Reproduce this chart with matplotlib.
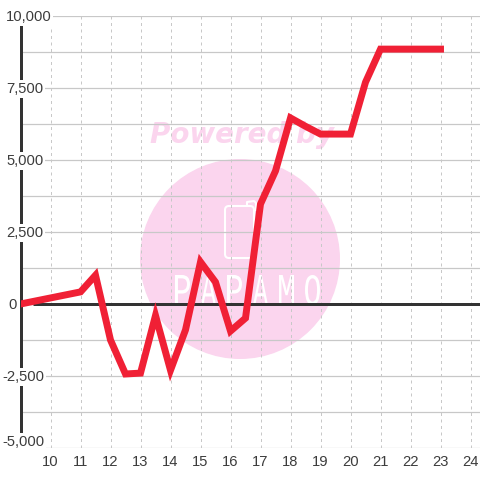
from matplotlib import pyplot as plt
from matplotlib.font_manager import FontProperties
from matplotlib.lines import Line2D
from matplotlib.patches import Circle, FancyBboxPatch, PathPatch
from matplotlib.textpath import TextPath
from matplotlib.transforms import Affine2D

plt.rcParams['font.family'] = ['Liberation Sans', 'DejaVu Sans']

x = [9, 11, 11.5, 12, 12.5, 13, 13.5, 14, 14.5, 15, 15.5, 16, 16.5, 17, 17.5, 18, 18.5, 19, 20, 20.5, 21, 23]
y = [0, 420, 1000, -1250, -2430, -2400, -400, -2300, -900, 1460, 760, -940, -490, 3470, 4620, 6460, 6170, 5900, 5900, 7700, 8850, 8850]
x_ticks = list(range(10, 25))
y_ticks = [-5000, -2500, 0, 2500, 5000, 7500, 10000]
y_minor = [-3750, -1250, 1250, 3750, 6250, 8750]
y_labels = ["-5,000", "-2,500", "0", "2,500", "5,000", "7,500", "10,000"]

W = 480
fig = plt.figure(figsize=(4.8, 4.8), dpi=100)
# axes box in pixels: x 20.5..480, y 16..448 from the top
ax = fig.add_axes([20.5 / W, (W - 448) / W, (W - 20.5) / W, 432 / W])
ax.set_xlim(9, 9 + (W - 20.5) / 30)
ax.set_ylim(-5000, 10000)
for s in ax.spines.values():
    s.set_visible(False)
ax.set_axisbelow(True)

# watermark, pixel coords with origin top left
px = Affine2D().scale(1, -1).translate(0, W)
pink = "#fbd5ee"
fig.add_artist(Circle((240, 259), 100, transform=px, color=pink, lw=0, zorder=0.5))
fig.add_artist(FancyBboxPatch((225, 206), 29, 52, boxstyle="round,pad=0,rounding_size=4",
                              transform=px, fc="none", ec="white", lw=1.5, zorder=0.6))
fig.add_artist(Line2D([247, 247, 254, 256, 256], [206, 202, 201, 203, 210], transform=px,
                      color="white", lw=1.5, zorder=0.6))
fig.text(242 / W, 1 - 135 / W, "Powered by", color=pink, fontsize=20, fontweight="bold",
         fontstyle="italic", family="DejaVu Sans", ha="center", va="center", zorder=0.6)
# narrow logo letters, squeezed to 15x30 px boxes
letter_font = FontProperties(family="Liberation Mono")
for i, c in enumerate("PAPAMO"):
    tp = TextPath((0, 0), c, size=40, prop=letter_font)
    b = tp.get_extents()
    tr = (Affine2D().translate(-b.x0, -b.y0).scale(15 / b.width, 30 / b.height)
          .translate(175 + i * 26, W - 305))
    fig.add_artist(PathPatch(tp, transform=tr, fc="white", ec="none", zorder=0.6))
ax.patch.set_alpha(0)
ax.set_zorder(1)

ax.set_xticks(x_ticks)
ax.set_yticks(y_ticks)
ax.set_yticks(y_minor, minor=True)
ax.set_yticklabels([])
ax.grid(axis="x", color="#c8c8c8", lw=0.72, ls=(0, (3, 3.5)))
ax.grid(axis="y", which="both", color="#c8c8c8", lw=0.9)
ax.tick_params(axis="both", which="both", length=0, labelsize=10.6, labelcolor="#3c3c3c")
ax.tick_params(axis="x", pad=5)

ax.axvline(9, color="#333333", lw=2.16, zorder=2, clip_on=False)
ax.hlines(0, 9 + 12.5 / 30, ax.get_xlim()[1], color="#333333", lw=2.16, zorder=2)
ax.plot(x, y, color="#f02035", lw=5, solid_joinstyle="miter", solid_capstyle="projecting", zorder=3)

for v, lab in zip(y_ticks, y_labels):
    dx = -18.5 if v < 0 else (-12.5 if v == 0 else -14.5)
    dy = 6 if v == -5000 else -1
    ax.annotate(lab, xy=(0, v), xycoords=("axes fraction", "data"), xytext=(dx, dy),
                textcoords="offset pixels", ha="left", va="center", fontsize=10.6,
                color="#3c3c3c", zorder=5, annotation_clip=False,
                bbox=dict(fc="white", ec="none", pad=1.2))

plt.savefig("out.png", dpi=100)
